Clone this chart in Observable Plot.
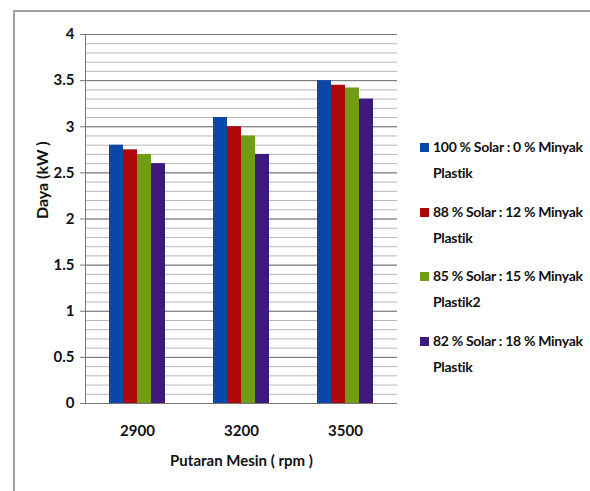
<!DOCTYPE html>
<html>
<head>
<meta charset="utf-8">
<script src="https://cdn.jsdelivr.net/npm/d3@7"></script>
<script src="https://cdn.jsdelivr.net/npm/@observablehq/plot@0.6"></script>
<style>
  html, body { margin: 0; padding: 0; background: #fff; }
  #wrap { position: relative; width: 590px; height: 491px; overflow: hidden;
          font-family: "Lato", sans-serif; font-weight: bold; }
  #border { position: absolute; left: 13px; top: 10px; width: 700px; height: 600px;
            border-left: 2px solid #a2a2a2; border-top: 2px solid #a2a2a2; }
  #chart { position: absolute; left: 0; top: 0; }
  #legend { position: absolute; left: 420px; top: 134px; font-size: 14px; letter-spacing: -0.3px; color: #111; }
  .item { position: relative; height: 52px; margin-bottom: 12.5px; padding-left: 13px; line-height: 26px; white-space: nowrap; }
  .sw { position: absolute; left: 0; top: 9px; width: 9px; height: 9px; }
</style>
</head>
<body>
<div id="wrap">
  <div id="border"></div>
  <div id="chart"></div>
  <div id="legend"></div>
</div>
<script>
const rpm = [2900, 3200, 3500];
const series = [
  "100 % Solar : 0 % Minyak Plastik",
  "88 % Solar : 12 % Minyak Plastik",
  "85 % Solar : 15 % Minyak Plastik2",
  "82 % Solar : 18 % Minyak Plastik"
];
const s100 = [2.8, 3.1, 3.5];
const s88 = [2.75, 3.0, 3.45];
const s85 = [2.7, 2.9, 3.42];
const s82 = [2.6, 2.7, 3.3];
const colors = ["#0a47a8", "#ad0707", "#6e9e14", "#3f1a7e"];
const yTicks = [0, 0.5, 1, 1.5, 2, 2.5, 3, 3.5, 4];
const yTitle = "Daya (kW )";
const xTitle = "Putaran Mesin ( rpm )";

const values = [s100, s88, s85, s82];
const data = rpm.flatMap((r, i) => series.map((s, j) => ({rpm: r, series: s, value: values[j][i]})));

const chart = Plot.plot({
  width: 590,
  height: 491,
  marginLeft: 85,
  marginRight: 193,
  marginTop: 34,
  marginBottom: 88,
  style: {fontFamily: "'Lato', sans-serif", fontSize: "15px", fontWeight: "bold", background: "transparent", color: "#111"},
  fx: {domain: rpm, padding: 0, label: null, axis: null},
  x: {domain: series, paddingInner: 0, paddingOuter: 1.6, axis: null},
  y: {domain: [0, 4], axis: null},
  color: {domain: series, range: colors},
  marks: [
    Plot.gridY({ticks: 40, stroke: "#b8b8b8", strokeOpacity: 1}),
    Plot.gridY(yTicks, {stroke: "#777", strokeOpacity: 1}),
    Plot.barY(data, {fx: "rpm", x: "series", y: "value", fill: "series"}),
    Plot.frame({anchor: "left", facetAnchor: "left", stroke: "#777"}),
    Plot.axisY(yTicks, {tickSize: 5, tickPadding: 6, stroke: "#777", fill: "#111", fontSize: 15,
      tickFormat: d => String(d), label: null}),
    Plot.text([yTitle], {frameAnchor: "left", facetAnchor: "left", rotate: -90, dx: -43,
      fontSize: 16, fontWeight: "bold", fill: "#111"}),
    Plot.axisFx({anchor: "bottom", tickSize: 0, tickPadding: 22, fill: "#111", fontSize: 15,
      tickFormat: d => String(d),
      label: xTitle, labelAnchor: "center", labelArrow: "none", labelOffset: 62})
  ]
});
document.getElementById("chart").appendChild(chart);

const legend = document.getElementById("legend");
series.forEach((s, i) => {
  const k = s.lastIndexOf(" ");
  const item = document.createElement("div");
  item.className = "item";
  item.innerHTML = `<span class="sw" style="background:${colors[i]}"></span>${s.slice(0, k)}<br>${s.slice(k + 1)}`;
  legend.appendChild(item);
});
</script>
</body>
</html>
